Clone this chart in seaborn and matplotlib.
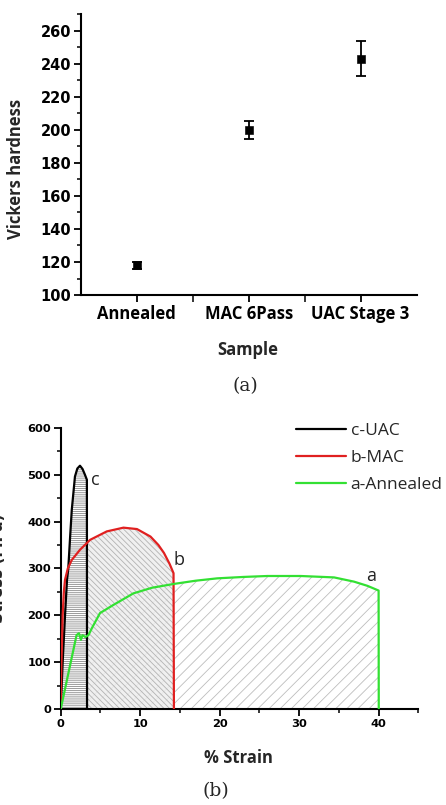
import matplotlib
matplotlib.use("Agg")
import matplotlib.pyplot as plt
from matplotlib.ticker import MultipleLocator, FixedLocator
import seaborn as sns
import pandas as pd

# ---------------- data ----------------
samples = ["Annealed", "MAC 6Pass", "UAC Stage 3"]
hardness = [118, 200, 243]
hardness_err = [2, 5.5, 10.5]

uac_strain = [0, 0.25, 0.55, 0.8, 0.96, 1.2, 1.4, 1.8, 2.1, 2.43, 2.75, 3.05, 3.3, 3.32]
uac_stress = [0, 100, 200, 276, 300, 370, 425, 496, 513, 519, 512, 500, 489, 0]

mac_strain = [0, 0.1, 0.25, 0.4, 0.55, 0.9, 1.39, 2.44, 3.7, 5.8, 7.9, 9.6, 11.3, 12.3, 13.0, 13.7, 14.2, 14.25]
mac_stress = [0, 100, 200, 250, 276, 300, 318, 340, 361, 379, 387, 384, 368, 350, 333, 310, 290, 0]

ann_strain = [0, 2.0, 2.3, 2.55, 2.75, 3.1, 3.5, 3.9, 4.95, 6.6, 9.15, 11.5, 14.2, 17, 19.7,
              23, 26, 30.2, 34.4, 36.9, 38.6, 40, 40.02]
ann_stress = [0, 158, 162, 148, 158, 154, 158, 172, 205, 222, 247, 259, 267, 274, 279,
              282, 284, 284, 281, 272, 263, 253, 0]

legend_labels = ["c-UAC", "b-MAC", "a-Annealed"]
curve_tags = ["c", "b", "a"]

# ---------------- style ----------------
sns.set_theme(style="ticks")
plt.rcParams["font.family"] = ["DejaVu Sans"]
plt.rcParams["hatch.linewidth"] = 0.6

fig = plt.figure(figsize=(4.46, 8.05), dpi=100)

# ================= panel (a) =================
ax1 = fig.add_axes([0.181, 0.6335, 0.753, 0.349])
df_h = pd.DataFrame({"Sample": samples, "Hardness": hardness, "err": hardness_err})
pos = list(range(len(samples)))
ax1.errorbar(pos, df_h["Hardness"], yerr=df_h["err"], fmt="none",
             ecolor="black", elinewidth=1.3, capsize=3.5, capthick=1.3, zorder=3)
sns.scatterplot(x=pos, y=df_h["Hardness"], marker="s", s=30, color="black",
                edgecolor="black", ax=ax1, zorder=4, legend=False)
ax1.set_xlim(-0.5, 2.5)
ax1.set_ylim(100, 270)
ax1.xaxis.set_major_locator(FixedLocator(pos))
ax1.xaxis.set_minor_locator(FixedLocator([0.5, 1.5]))
ax1.set_xticklabels(samples, fontfamily="Open Sans", fontweight="bold", fontsize=12)
ax1.yaxis.set_major_locator(FixedLocator(list(range(100, 261, 20))))
ax1.yaxis.set_minor_locator(MultipleLocator(10))
for lab in ax1.get_yticklabels():
    lab.set_fontweight("bold")
    lab.set_fontsize(10.5)
ax1.tick_params(axis="both", which="major", direction="out", length=5, width=1.3,
                colors="black", pad=2)
ax1.tick_params(axis="both", which="minor", direction="out", length=3, width=1.1,
                colors="black")
ax1.tick_params(axis="x", which="minor", length=5)
for sp in ["top", "right"]:
    ax1.spines[sp].set_visible(False)
for sp in ["left", "bottom"]:
    ax1.spines[sp].set_linewidth(1.5)
    ax1.spines[sp].set_color("black")
ax1.set_xlabel("Sample", fontfamily="Open Sans", fontweight="bold", fontsize=12)
ax1.set_ylabel("Vickers hardness", fontfamily="Open Sans", fontweight="bold", fontsize=12)
ax1.xaxis.set_label_coords(0.498, -0.165)
ax1.yaxis.set_label_coords(-0.165, 0.45)

fig.text(245 / 446, 1 - 386 / 805, "(a)", ha="center", va="center",
         fontfamily="DejaVu Serif", fontsize=13.5)

# ================= panel (b) =================
ax2 = fig.add_axes([0.136, 0.1189, 0.802, 0.3498])

# hatched areas
ax2.fill_between(ann_strain, 0, ann_stress, facecolor="none", edgecolor="#bdbdbd",
                 hatch="///", linewidth=0, zorder=1)
ax2.fill_between(mac_strain, 0, mac_stress, facecolor="#eeeeee", edgecolor="#a8a8a8",
                 hatch="\\\\\\\\\\\\", linewidth=0, zorder=1.5, alpha=0.85)
ax2.fill_between(uac_strain, 0, uac_stress, facecolor="white", edgecolor="#8a8a8a",
                 hatch="--------", linewidth=0, zorder=2)

curves = pd.concat([
    pd.DataFrame({"strain": uac_strain, "stress": uac_stress, "sample": legend_labels[0]}),
    pd.DataFrame({"strain": mac_strain, "stress": mac_stress, "sample": legend_labels[1]}),
    pd.DataFrame({"strain": ann_strain, "stress": ann_stress, "sample": legend_labels[2]}),
], ignore_index=True)
sns.lineplot(data=curves, x="strain", y="stress", hue="sample", sort=False,
             estimator=None, palette=["black", "#e02020", "#33e033"],
             linewidth=1.6, ax=ax2, zorder=5)

ax2.set_xlim(0, 45)
ax2.set_ylim(0, 600)
ax2.xaxis.set_major_locator(MultipleLocator(10))
ax2.xaxis.set_minor_locator(MultipleLocator(5))
ax2.yaxis.set_major_locator(MultipleLocator(100))
ax2.yaxis.set_minor_locator(MultipleLocator(50))
for lab in ax2.get_xticklabels() + ax2.get_yticklabels():
    lab.set_fontweight("bold")
    lab.set_fontsize(8.2)
ax2.tick_params(axis="both", which="major", direction="out", length=5, width=1.3,
                colors="black", pad=2)
ax2.tick_params(axis="both", which="minor", direction="out", length=3, width=1.1,
                colors="black")
for sp in ["top", "right"]:
    ax2.spines[sp].set_visible(False)
for sp in ["left", "bottom"]:
    ax2.spines[sp].set_linewidth(1.5)
    ax2.spines[sp].set_color("black")

ax2.set_xlabel("% Strain", fontfamily="Open Sans", fontweight="bold", fontsize=12)
ax2.set_ylabel("Stress (MPa)", fontfamily="DejaVu Sans", fontweight="bold", fontsize=11)
ax2.xaxis.set_label_coords(0.496, -0.14)
ax2.yaxis.set_label_coords(-0.154, 0.5)

# curve tags
for tag, (xs, ys) in zip(curve_tags, [(4.32, 489), (14.9, 318), (39.1, 283)]):
    ax2.text(xs, ys, tag, ha="center", va="center", fontfamily="Open Sans",
             fontsize=13, color="#222222", zorder=6)

leg = ax2.legend(loc="upper left", bbox_to_anchor=(296 / 446, 1 - 423 / 805),
                 bbox_transform=fig.transFigure, frameon=False,
                 prop={"family": "Open Sans", "size": 12.5},
                 handlelength=2.9, handletextpad=0.25, labelspacing=0.62,
                 borderpad=0, borderaxespad=0)
for line in leg.get_lines():
    line.set_linewidth(1.6)

fig.text(216 / 446, 1 - 791 / 805, "(b)", ha="center", va="center",
         fontfamily="DejaVu Serif", fontsize=13.5)

fig.savefig("out.png", dpi=100)
